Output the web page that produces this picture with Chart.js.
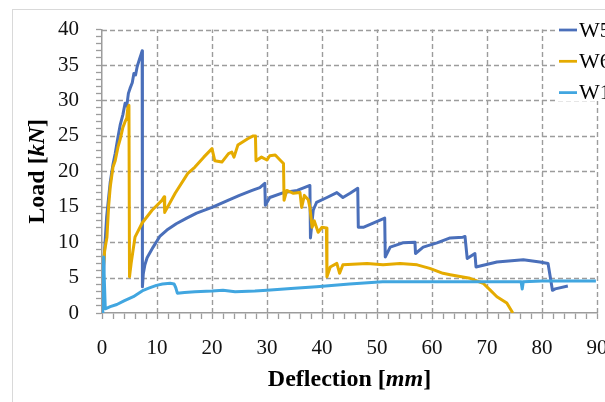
<!DOCTYPE html>
<html>
<head>
<meta charset="utf-8">
<script src="https://cdn.jsdelivr.net/npm/chart.js@4"></script>
<style>
  html, body { margin: 0; padding: 0; background: #fff; overflow: hidden; }
  canvas { display: block; }
</style>
</head>
<body>
<canvas id="chart" width="640" height="402"></canvas>
<script>
const seriesNames = ['W5', 'W6', 'W1'];
const seriesColors = ['#4a6fba', '#e5ab00', '#41a6e0'];

// deflection [mm] / load [kN]
const w5X = [0, 0.2, 0.4, 0.6, 0.85, 1.1, 1.5, 2.0, 2.4, 2.9, 3.3, 3.8, 4.2, 4.5, 4.8, 5.1, 5.5, 5.8, 6.1, 6.4,
  6.8, 7.1, 7.3, 7.35, 7.5, 7.8, 8.2, 9.3, 10.5, 11.8, 13.5, 15.4, 17.2, 20.0, 22.9, 25.0, 27.3, 28.7, 29.6, 29.7,
  30.5, 33.0, 35.5, 37.8, 37.9, 38.4, 39.0, 40.9, 42.7, 43.8, 45.1, 46.5, 46.6, 47.5, 49.3, 51.4, 51.5, 52.4, 54.7, 56.9,
  57.0, 58.4, 60.9, 63.3, 65.6, 66.0, 66.4, 67.8, 68.0, 71.8, 76.6, 79.6, 81.1, 81.9, 82.4, 84.7];
const w5Y = [0, 4, 8, 10.5, 13.6, 15.5, 18.5, 21, 22.5, 24.8, 26.5, 28, 29.6, 29.2, 31, 31.7, 32.5, 33.8, 33.6, 34.8,
  35.8, 36.5, 37.0, 3.7, 5.5, 6.8, 7.8, 9.3, 10.8, 11.7, 12.6, 13.4, 14.1, 14.9, 15.9, 16.6, 17.3, 17.7, 18.3, 15.2,
  16.3, 17.0, 17.3, 18.0, 10.6, 14.5, 15.6, 16.3, 17.0, 16.3, 16.9, 17.6, 12.1, 12.1, 12.7, 13.4, 7.9, 9.3, 9.9, 10.0,
  8.4, 9.3, 9.9, 10.6, 10.7, 10.8, 7.7, 8.4, 6.5, 7.2, 7.5, 7.2, 7.0, 3.2, 3.4, 3.8];

const w6X = [0, 0.2, 0.5, 0.9, 1.2, 1.5, 2.0, 2.4, 2.9, 3.3, 3.8, 4.2, 4.5, 4.7, 4.9, 5.0, 5.3, 5.6, 6.0, 7.3,
  9.1, 10.9, 11.3, 11.4, 13.3, 15.6, 16.9, 18.5, 20.0, 20.5, 21.8, 23.0, 23.6, 24.0, 24.7, 26.5, 27.5, 27.9, 28.0, 29.0,
  30.0, 30.5, 31.5, 32.5, 33.0, 33.1, 33.6, 34.8, 36.0, 36.3, 36.8, 37.5, 37.8, 38.2, 38.6, 39.3, 40.0, 40.8, 40.9, 41.5,
  42.7, 43.2, 43.8, 48.2, 51.1, 54.2, 57.3, 59.6, 62.0, 63.3, 66.9, 69.3, 70.5, 71.8, 73.6, 74.7];
const w6Y = [0, 6, 8.9, 10.7, 15, 17.8, 20.6, 21.5, 23.4, 24.5, 26.2, 27, 27.5, 29.0, 29.3, 5.1, 7.0, 8.6, 10.7, 12.7,
  14.5, 15.9, 16.4, 14.2, 16.9, 19.7, 20.6, 22.0, 23.2, 21.5, 21.3, 22.5, 22.7, 22.0, 23.7, 24.6, 25.0, 25.0, 21.5, 22.0,
  21.6, 22.2, 22.3, 21.5, 21.1, 15.9, 17.3, 16.9, 17.0, 14.9, 16.6, 16.0, 14.9, 12.1, 13.0, 11.4, 12.1, 12.0, 5.1, 6.5,
  7.0, 5.6, 6.8, 7.0, 6.8, 7.0, 6.8, 6.3, 5.6, 5.4, 4.9, 4.2, 3.3, 2.3, 1.4, 0];

const w1X = [0, 0.15, 0.3, 0.45, 0.6, 0.9, 1.5, 2.7, 4.0, 5.7, 7.5, 8.5, 9.9, 11.0, 12.4, 13.1, 13.4, 13.7, 15.0, 16.9,
  20.0, 22.0, 24.2, 27.8, 30.0, 35.0, 39.0, 45.0, 51.0, 57.0, 63.3, 68.0, 72.0, 76.2, 76.4, 76.6, 80.0, 85.0, 89.8];
const w1Y = [0, 4.0, 7.9, 4.0, 0.6, 0.7, 0.9, 1.2, 1.7, 2.3, 3.2, 3.5, 3.9, 4.1, 4.2, 4.1, 3.6, 2.8, 2.9, 3.0,
  3.1, 3.2, 3.0, 3.1, 3.2, 3.5, 3.7, 4.1, 4.4, 4.4, 4.4, 4.4, 4.4, 4.4, 3.4, 4.4, 4.5, 4.5, 4.5];

const xTitle = [['Deflection [', 'bold'], ['mm', 'bold italic'], [']', 'bold']];
const yTitle = [['Load [', 'bold'], ['kN', 'bold italic'], [']', 'bold']];

const serif = '"Liberation Serif", "Times New Roman", serif';
const gridGrey = '#9c9c9c';

function pts(xs, ys) {
  return xs.map((x, i) => ({ x: x, y: ys[i] }));
}

function isMajor(v, step) {
  return Math.abs(v / step - Math.round(v / step)) < 1e-6;
}

function drawParts(c, parts, size) {
  let total = 0;
  parts.forEach(p => { c.font = p[1] + ' ' + size + 'px ' + serif; total += c.measureText(p[0]).width; });
  let x = -total / 2;
  parts.forEach(p => {
    c.font = p[1] + ' ' + size + 'px ' + serif;
    c.fillText(p[0], x, 0);
    x += c.measureText(p[0]).width;
  });
}

const decorations = {
  id: 'decorations',
  beforeDraw(chart) {
    const c = chart.ctx;
    c.save();
    c.fillStyle = '#fff';
    c.fillRect(0, 0, chart.width, chart.height);
    c.strokeStyle = '#d9d9d9';
    c.lineWidth = 1;
    c.strokeRect(12.5, 9.5, chart.width, chart.height);
    c.restore();
  },
  beforeDatasetsDraw(chart) {
    // dashed major grid, placed from the scales' own ticks
    const c = chart.ctx;
    const a = chart.chartArea;
    const xs = chart.scales.x;
    const ys = chart.scales.y;
    c.save();
    c.strokeStyle = gridGrey;
    c.lineWidth = 1.4;
    c.setLineDash([5, 3]);
    xs.ticks.forEach(t => {
      if (t.value === 0 || !isMajor(t.value, 10)) return;
      const px = Math.round(xs.getPixelForValue(t.value)) + 0.5;
      c.beginPath();
      c.moveTo(px, a.bottom);
      c.lineTo(px, a.top);
      c.stroke();
    });
    ys.ticks.forEach(t => {
      if (t.value === 0 || !isMajor(t.value, 5)) return;
      const py = Math.round(ys.getPixelForValue(t.value)) + 0.5;
      c.beginPath();
      c.moveTo(a.left, py);
      c.lineTo(a.right, py);
      c.stroke();
    });
    c.restore();
  },
  afterDraw(chart) {
    const c = chart.ctx;
    const area = chart.chartArea;
    c.save();
    c.fillStyle = '#000';
    c.textAlign = 'left';
    c.textBaseline = 'middle';

    // axis titles
    c.save();
    c.translate((area.left + area.right) / 2, 380);
    drawParts(c, xTitle, 24);
    c.restore();
    c.save();
    c.translate(38, (area.top + area.bottom) / 2);
    c.rotate(-Math.PI / 2);
    drawParts(c, yTitle, 24);
    c.restore();

    // legend (runs off the right edge like the original)
    c.fillStyle = '#fff';
    c.fillRect(556, 14, 100, 87);
    chart.data.datasets.forEach((ds, i) => {
      const y = 30 + i * 31.3;
      c.strokeStyle = ds.borderColor;
      c.lineWidth = 2.75;
      c.beginPath();
      c.moveTo(559, y);
      c.lineTo(577, y);
      c.stroke();
      c.fillStyle = '#000';
      c.font = '22px ' + serif;
      c.fillText(ds.label, 579, y + 1);
    });
    c.restore();
  }
};

const tickFont = { family: serif, size: 21 };

new Chart(document.getElementById('chart'), {
  type: 'line',
  data: {
    datasets: [
      { label: seriesNames[0], data: pts(w5X, w5Y), borderColor: seriesColors[0], order: 3 },
      { label: seriesNames[1], data: pts(w6X, w6Y), borderColor: seriesColors[1], order: 2 },
      { label: seriesNames[2], data: pts(w1X, w1Y), borderColor: seriesColors[2], order: 1 }
    ]
  },
  options: {
    responsive: false,
    animation: false,
    layout: { padding: { left: 0, top: 29, right: 43, bottom: 0 } },
    elements: {
      point: { radius: 0 },
      line: { borderWidth: 3, tension: 0, fill: false, borderJoinStyle: 'round' }
    },
    plugins: { legend: { display: false }, tooltip: { enabled: false } },
    scales: {
      x: {
        type: 'linear',
        min: 0,
        max: 90,
        afterFit: s => { s.height = 89; },
        ticks: {
          stepSize: 2,
          autoSkip: false,
          maxRotation: 0,
          minRotation: 0,
          padding: 17,
          color: '#111',
          font: tickFont,
          callback: v => (isMajor(v, 10) ? v : '')
        },
        grid: { drawOnChartArea: false, tickColor: gridGrey, tickLength: 6, tickWidth: 1.3 },
        border: { color: gridGrey, width: 1.5 }
      },
      y: {
        min: 0,
        max: 40,
        afterFit: s => { s.width = 102; },
        ticks: {
          stepSize: 1,
          autoSkip: false,
          padding: 17,
          color: '#111',
          font: tickFont,
          callback: v => (isMajor(v, 5) ? v : '')
        },
        grid: { drawOnChartArea: false, tickColor: gridGrey, tickLength: 6, tickWidth: 1.3 },
        border: { color: gridGrey, width: 1.5 }
      }
    }
  },
  plugins: [decorations]
});
</script>
</body>
</html>
